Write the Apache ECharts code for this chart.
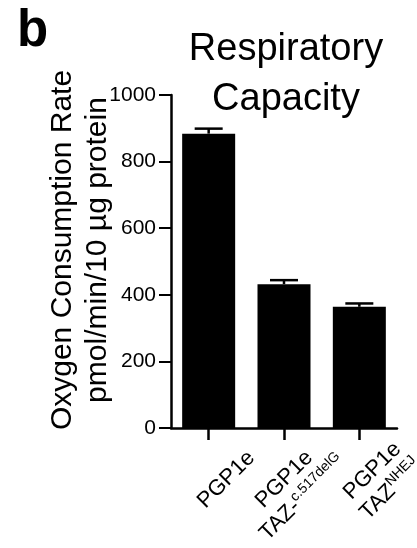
<!DOCTYPE html>
<html>
<head>
<meta charset="utf-8">
<script src="https://cdn.jsdelivr.net/npm/echarts@6/dist/echarts.min.js"></script>
<style>
  html, body { margin: 0; padding: 0; background: #fff; }
  #chart { width: 417px; height: 548px; }
</style>
</head>
<body>
<div id="chart"></div>
<script>
// ---- data ----
const cellLine = ['PGP1e', 'PGP1e', 'PGP1e'];
const genotype = ['', 'TAZ-', 'TAZ'];
const genotypeSup = ['', 'c.517delG', 'NHEJ'];
const ocrMean = [884, 432, 364];
const ocrErr = [15, 12, 10];
const yMin = 0, yMax = 1000, yStep = 200;
const chartTitle = 'Respiratory\nCapacity';
const panelLetter = 'b';
const yTitle = 'Oxygen Consumption Rate\npmol/min/10 µg protein';

// ---- build ----
const FONT = '"Liberation Sans", Arial, Helvetica, sans-serif';
const categories = cellLine.map((c, i) => c + (genotype[i] ? ' ' + genotype[i] + genotypeSup[i] : ''));
const labelPads = [[98, 48, 0, 0], [99, 72, 0, 0], [105, 42, 0, 0]];

const chart = echarts.init(document.getElementById('chart'), null, { renderer: 'canvas' });
chart.setOption({
  backgroundColor: '#fff',
  animation: false,
  title: [
    { text: panelLetter, left: 12, top: 1,
      textStyle: { fontFamily: FONT, fontSize: 51, fontWeight: 'bold', color: '#000', lineHeight: 51 } },
    { text: chartTitle, left: 281, top: 20, textAlign: 'center',
      textStyle: { fontFamily: FONT, fontSize: 38, fontWeight: 'normal', color: '#000', lineHeight: 50 } }
  ],
  grid: { left: 171, right: 20, top: 95, bottom: 120, containLabel: false, outerBoundsMode: 'none' },
  xAxis: {
    type: 'category',
    data: categories.map((c, i) => ({
      value: c,
      textStyle: { padding: labelPads[i], align: 'center', verticalAlign: 'middle' }
    })),
    axisLine: { lineStyle: { color: '#000', width: 2.5 } },
    axisTick: { show: true, alignWithLabel: true, length: 12, lineStyle: { color: '#000', width: 2.5 } },
    axisLabel: {
      interval: 0, rotate: 45, margin: 0, hideOverlap: false,
      fontFamily: FONT, color: '#000',
      formatter: (v, i) => '{m|' + cellLine[i] + '}' + (genotype[i] ? '\n{m|' + genotype[i] + '}{s|' + genotypeSup[i] + '}' : ''),
      rich: {
        m: { fontFamily: FONT, fontSize: 22, lineHeight: 26, color: '#000' },
        s: { fontFamily: FONT, fontSize: 14, lineHeight: 14, color: '#000', verticalAlign: 'top' }
      }
    },
    splitLine: { show: false }
  },
  yAxis: {
    type: 'value', min: yMin, max: yMax, interval: yStep,
    name: yTitle, nameLocation: 'middle', nameGap: 56, nameRotate: 90, nameMoveOverlap: false,
    nameTextStyle: { fontFamily: FONT, fontSize: 30, lineHeight: 35, color: '#000', align: 'center', padding: [0, 0, 0, 23] },
    axisLine: { show: true, lineStyle: { color: '#000', width: 2.5 } },
    axisTick: { show: true, length: 12, lineStyle: { color: '#000', width: 2 } },
    axisLabel: { fontFamily: FONT, fontSize: 21, color: '#000', margin: 15, formatter: v => String(v) },
    splitLine: { show: false }
  },
  series: [
    {
      type: 'bar', data: ocrMean, barWidth: 53,
      itemStyle: { color: '#000' }, silent: true
    },
    {
      type: 'custom',
      data: ocrMean.map((m, i) => [i, m, m + ocrErr[i]]),
      encode: { x: 0, y: [1, 2] },
      renderItem: function (params, api) {
        const i = api.value(0);
        const lo = api.coord([i, api.value(1)]);
        const hi = api.coord([i, api.value(2)]);
        const half = 14;
        const st = { stroke: '#000', lineWidth: 2.5 };
        return {
          type: 'group',
          children: [
            { type: 'line', shape: { x1: lo[0], y1: lo[1], x2: hi[0], y2: hi[1] }, style: st },
            { type: 'line', shape: { x1: hi[0] - half, y1: hi[1], x2: hi[0] + half, y2: hi[1] }, style: st }
          ]
        };
      },
      z: 5, silent: true
    }
  ]
});
</script>
</body>
</html>
